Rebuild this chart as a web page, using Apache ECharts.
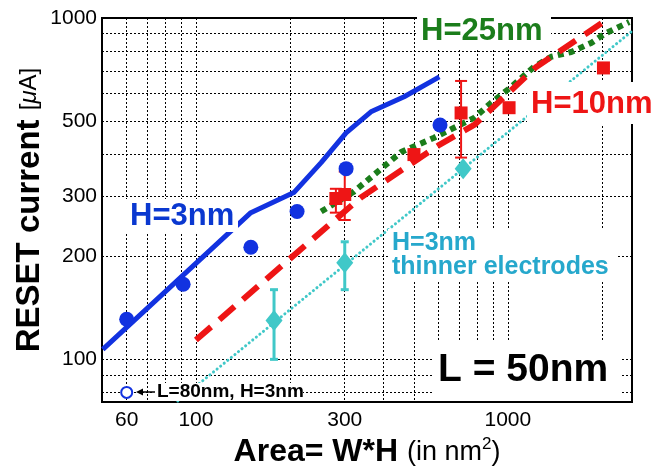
<!DOCTYPE html>
<html><head><meta charset="utf-8">
<script src="https://cdn.jsdelivr.net/npm/echarts@6/dist/echarts.min.js"></script>
<style>html,body{margin:0;padding:0;background:#fff}#c{width:655px;height:466px}</style>
</head><body><div id="c"></div>
<script>
// ---- axes ----
const xTickLabels = [60, 100, 300, 1000];
const xGridValues = [60, 70, 80, 90, 100, 200, 300, 400, 500, 600, 700, 800, 900, 1000, 2000];
const yTickLabels = [100, 200, 300, 500, 1000];
const yGridValues = [80, 90, 100, 200, 300, 400, 500, 600, 700, 800, 900, 1000];

// ---- H=3nm (blue) ----
const blueLine = [[50.3, 107], [150, 269], [206, 308], [252, 377], [303, 461], [364, 531], [465, 588], [603, 672]];
const blueDots = [[60, 131], [91, 166], [150, 213], [211, 271], [303, 362], [606, 486]];
const blueOpen = [[60, 80]];

// ---- H=10nm (red) ----
const redLine = [[100, 114], [338, 298], [603, 425], [780, 486], [1233, 719], [2022, 973]];
const redSquares = [[281, 296], [300, 304], [500, 398], [708, 527], [1009, 546], [2025, 714]];
const redErr = [[281, 269, 316], [300, 256, 355], [708, 390, 654]];

// ---- H=25nm (green) ----
const greenLine = [[252, 271], [321, 310], [455, 405], [580, 446], [780, 510], [883, 564], [1025, 628], [1213, 719], [1377, 770], [1596, 795], [1849, 845], [2066, 904], [2449, 973]];

// ---- H=3nm thinner electrodes (cyan) ----
const cyanLine = [[87.5, 75.5], [2500, 915]];
const cyanDiamonds = [[178, 130], [300, 192], [719, 362]];
const cyanErr = [[178, 100, 160], [300, 160, 221]];

const BLUE = '#1232e0', RED = '#ee1515', GREEN = '#1b7d1b', CYAN = '#40c8c8';
const FONT = 'Liberation Sans, Arial, sans-serif';

function errBar(color, lw, cap) {
  return function (params, api) {
    const x = api.value(0);
    const lo = api.coord([x, api.value(1)]);
    const hi = api.coord([x, api.value(2)]);
    const st = { stroke: color, lineWidth: lw };
    return { type: 'group', children: [
      { type: 'line', shape: { x1: lo[0], y1: lo[1], x2: hi[0], y2: hi[1] }, style: st },
      { type: 'line', shape: { x1: lo[0] - cap, y1: lo[1], x2: lo[0] + cap, y2: lo[1] }, style: st },
      { type: 'line', shape: { x1: hi[0] - cap, y1: hi[1], x2: hi[0] + cap, y2: hi[1] }, style: st }
    ]};
  };
}

function box(x, y, w, h) {
  return { type: 'rect', z: 100, shape: { x: x, y: y, width: w, height: h }, style: { fill: '#fff' } };
}
function label(x, y, text, color, size, weight) {
  return { type: 'text', z: 101, x: x, y: y, style: { text: text, fill: color, font: (weight || 'bold') + ' ' + size + 'px ' + FONT, verticalAlign: 'middle', align: 'left' } };
}

const chart = echarts.init(document.getElementById('c'), null, { renderer: 'canvas' });
chart.setOption({
  animation: false,
  backgroundColor: '#fff',
  grid: { left: 102, top: 18, right: 23, bottom: 64, containLabel: false, outerBoundsMode: 'none',
    show: true, borderColor: '#000', borderWidth: 2, backgroundColor: 'transparent' },
  xAxis: {
    type: 'log', logBase: 10, min: 50, max: 2500,
    axisLine: { show: false },
    axisTick: { show: false, customValues: xGridValues },
    axisLabel: { customValues: xTickLabels, formatter: v => String(Math.round(v)), color: '#000', fontSize: 21, fontFamily: FONT, margin: 8 },
    splitLine: { show: true, lineStyle: { color: '#000', type: [2, 2], width: 1 } },
    name: '{b|Area= W*H }{n|(in nm}{sup|2}{n|)}',
    nameLocation: 'middle', nameGap: 32,
    nameTextStyle: { rich: {
      b: { fontSize: 32, fontWeight: 'bold', fontFamily: FONT, color: '#000' },
      n: { fontSize: 27, fontFamily: FONT, color: '#000' },
      sup: { fontSize: 17, fontFamily: FONT, color: '#000', padding: [0, 0, 16, 0] }
    } }
  },
  yAxis: {
    type: 'log', logBase: 10, min: 75, max: 1000,
    axisLine: { show: false },
    axisTick: { show: false, customValues: yGridValues },
    axisLabel: { customValues: yTickLabels, formatter: v => String(Math.round(v)), color: '#000', fontSize: 21, fontFamily: FONT, margin: 5 },
    splitLine: { show: true, lineStyle: { color: '#000', type: [2, 2], width: 1 } },
    name: '{b|RESET current }{s|[}{mu|μ}{s|A]}',
    nameLocation: 'middle', nameGap: 56, nameRotate: 90, nameMoveOverlap: false,
    nameTextStyle: { rich: {
      b: { fontSize: 33, fontWeight: 'bold', fontFamily: FONT, color: '#000' },
      s: { fontSize: 24, fontFamily: FONT, color: '#000' },
      mu: { fontSize: 24, fontFamily: FONT, fontStyle: 'italic', color: '#000' }
    } }
  },
  series: [
    { name: 'cyanLine', type: 'line', data: cyanLine, symbol: 'none', z: 2,
      lineStyle: { color: CYAN, width: 3, type: [0.1, 4.5], cap: 'round' } },
    { name: 'greenLine', type: 'line', data: greenLine, symbol: 'none', z: 3,
      lineStyle: { color: GREEN, width: 6, type: [6, 5] } },
    { name: 'redLine', type: 'line', data: redLine, symbol: 'none', z: 3,
      lineStyle: { color: RED, width: 6, type: [20, 11] } },
    { name: 'blueLine', type: 'line', data: blueLine, symbol: 'none', z: 3,
      lineStyle: { color: BLUE, width: 5 } },
    { name: 'redErr', type: 'custom', data: redErr, renderItem: errBar(RED, 2, 6), encode: { x: 0, y: [1, 2] }, z: 4 },
    { name: 'cyanErr', type: 'custom', data: cyanErr, renderItem: errBar(CYAN, 3, 4), encode: { x: 0, y: [1, 2] }, z: 4 },
    { name: 'redSquares', type: 'scatter', data: redSquares, symbol: 'rect', symbolSize: 13, itemStyle: { color: RED, opacity: 1 }, z: 5 },
    { name: 'cyanDiamonds', type: 'scatter', data: cyanDiamonds, symbol: 'diamond', symbolSize: [17, 21], itemStyle: { color: CYAN, opacity: 1 }, z: 5 },
    { name: 'blueDots', type: 'scatter', data: blueDots, symbol: 'circle', symbolSize: 15, itemStyle: { color: BLUE, opacity: 1 }, z: 5 },
    { name: 'blueOpen', type: 'scatter', data: blueOpen, symbol: 'emptyCircle', symbolSize: 11, itemStyle: { color: BLUE, borderWidth: 2, opacity: 1 }, z: 5 }
  ],
  graphic: [
    box(126, 199, 112, 33), label(130, 216, 'H=3nm', '#0a38d0', 31),
    box(417, 4, 134, 44), label(421, 31, 'H=25nm', GREEN, 31),
    box(527, 82, 128, 42), label(531, 104, 'H=10nm', RED, 31),
    box(388, 229, 230, 51), label(392, 243, 'H=3nm', '#26a8cc', 25), label(392, 267, 'thinner electrodes', '#26a8cc', 25),
    box(432, 341, 190, 59), label(438, 370, 'L = 50nm', '#000', 39),
    box(153, 383, 150, 18), label(157, 392, 'L=80nm, H=3nm', '#000', 19),
    { type: 'line', z: 101, shape: { x1: 141, y1: 392, x2: 155, y2: 392 }, style: { stroke: '#000', lineWidth: 1.5 } },
    { type: 'polygon', z: 101, shape: { points: [[136, 392], [143, 388.5], [143, 395.5]] }, style: { fill: '#000' } }
  ]
});
</script></body></html>
